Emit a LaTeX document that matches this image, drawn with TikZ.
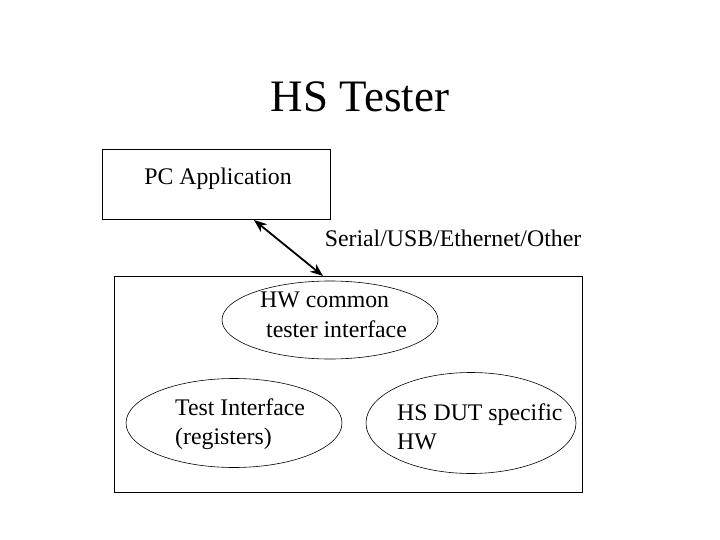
\documentclass[tikz,border=0pt]{standalone}
\usepackage{fontspec}
\setmainfont{Liberation Serif}
\usetikzlibrary{shapes.geometric,arrows.meta}

\begin{document}
\begin{tikzpicture}[x=1pt, y=-1pt,
		box/.style={rectangle, draw=black, line width=1pt, inner sep=0pt},
		part/.style={ellipse, draw=black, line width=0.6pt, inner sep=0pt},
		txt/.style={font=\fontsize{23.8}{29.5}\selectfont, inner sep=0pt, align=left}]
			\useasboundingbox (0,0) rectangle (720,540);
			\node[font=\fontsize{45}{50}\selectfont](title) at (360,97){HS Tester};
			\node[box, minimum width=228pt, minimum height=70pt](pc) at (216,185){};
			\node[txt](pclabel) at (218,179){PC Application};
			\node[box, minimum width=468pt, minimum height=216pt](tester) at (348,384){};
			% the three blocks inside the tester
			\node[part, minimum width=216pt, minimum height=78pt](common) at (330,320){};
			\node[part, minimum width=216pt, minimum height=89pt](regs) at (234,423){};
			\node[part, minimum width=210pt, minimum height=101pt](dut) at (471,423){};
			\node[txt, anchor=west](commonlabel) at (260,315){HW common\\ \ tester interface};
			\node[txt, anchor=west](regslabel) at (175,424){Test Interface\\(registers)};
			\node[txt, anchor=west](dutlabel) at (397,427){HS DUT specific\\HW};
			\coordinate (pcport) at (254,220);
			\coordinate (hwport) at (323,276);
			\draw[line width=1.8pt, {Stealth[length=13pt,width=10pt]}-{Stealth[length=13pt,width=10pt]}] (pcport) -- (hwport);
			\node[txt](link) at (453,238){Serial/USB/Ethernet/Other};
			\end{tikzpicture}
\end{document}
